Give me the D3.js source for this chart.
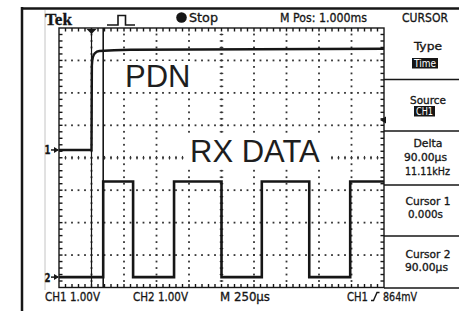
<!DOCTYPE html>
<html><head><meta charset="utf-8">
<script src="https://cdn.jsdelivr.net/npm/d3@7"></script>
<style>html,body{margin:0;padding:0;background:#fff;overflow:hidden}</style>
</head><body><svg id="c" width="459" height="311"></svg>
<script>
// ---------- data ----------
const timeDomainUs = [-250, 2250];          // 10 div x 250 µs, cursor 1 at t = 0
const cursorTimesUs = [0, 90];
const pdnTimeUs = [-250, 0, 3, 10, 25, 60, 300, 2250];
const pdnVolts  = [0, 0, 2.6, 2.85, 2.98, 3.05, 3.09, 3.12];
const rxEdgeTimesUs = [-250, 90, 320, 635, 1000, 1310, 1675, 1990, 2250];
const rxLevelsV     = [0, 2.95, 0, 2.95, 0, 2.95, 0, 2.95, 2.95];
const voltsPerDiv = [1, 1];
const triggerLevelV = 0.864;
const headerLabels = ["Tek", "Stop", "M Pos: 1.000ms", "CURSOR"];
const menuTitles = ["Type", "Source", "Delta", "Cursor 1", "Cursor 2"];
const menuValues = [["Time"], ["CH1"], ["90.00µs", "11.11kHz"], ["0.000s"], ["90.00µs"]];
const footerLabels = ["CH1 1.00V", "CH2 1.00V", "M 250µs", "CH1", "864mV"];
const waveLabels = ["PDN", "RX DATA"];

// ---------- layout ----------
const svg = d3.select("#c");
const gL = 59, gR = 384, gT = 28, gB = 287.5;
const nX = 10, nY = 8;
const divW = (gR - gL) / nX, divH = (gB - gT) / nY;
const x = d3.scaleLinear().domain(timeDomainUs).range([gL, gR]);
const yDiv = d3.scaleLinear().domain([0, nY]).range([gB, gT]);
const chPos = [4.24, 0.32];   // ground position (divisions above bottom)
const yCh = (ch, v) => yDiv(chPos[ch] + v / voltsPerDiv[ch]);
const ink = "#161616";
const condensed = "'Liberation Sans Narrow','DejaVu Sans Condensed','Liberation Sans',sans-serif";

function txt(g, s, xx, yy, len, size, opts = {}) {
  const t = g.append("text").attr("x", xx).attr("y", yy).text(s)
    .attr("font-family", opts.family || condensed)
    .attr("font-size", size).attr("fill", opts.fill || ink)
    .attr("font-weight", opts.weight || "normal");
  if (!opts.noStroke) t.attr("stroke", opts.fill || ink).attr("stroke-width", 0.3);
  if (len) t.attr("textLength", len).attr("lengthAdjust", "spacingAndGlyphs");
  if (opts.anchor) t.attr("text-anchor", opts.anchor);
  return t;
}

// outer frame
svg.append("line").attr("x1", 22).attr("x2", 22).attr("y1", 7).attr("y2", 311)
  .attr("stroke", ink).attr("stroke-width", 2.5);
svg.append("line").attr("x1", 21).attr("x2", 459).attr("y1", 8.5).attr("y2", 8.5)
  .attr("stroke", ink).attr("stroke-width", 2.5);
svg.append("line").attr("x1", 45).attr("x2", 45).attr("y1", 10).attr("y2", 290)
  .attr("stroke", "#c4c4c4").attr("stroke-width", 1);

// ---------- graticule ----------
const grid = svg.append("g");
const step = 5; // minor per div
const dots = [];
for (let k = 1; k < nX; k++) {
  const xx = gL + k * divW;
  for (let j = 1; j < nY * step; j++) dots.push([xx, gT + j * divH / step]);
}
for (let k = 1; k < nY; k++) {
  const yy = gT + k * divH;
  for (let j = 1; j < nX * step; j++) dots.push([gL + j * divW / step, yy]);
}
grid.selectAll("rect.dot").data(dots).join("rect").attr("class", "dot")
  .attr("x", d => d[0] - 0.9).attr("y", d => d[1] - 0.9)
  .attr("width", 1.8).attr("height", 1.8).attr("fill", "#333");
// center line ticks
const cx = gL + 5 * divW, cy = gT + 4 * divH;
const cTicksV = d3.range(1, nY * step).map(j => gT + j * divH / step);
const cTicksH = d3.range(1, nX * step).map(j => gL + j * divW / step);
grid.selectAll("line.cv").data(cTicksV).join("line")
  .attr("x1", cx - 1.8).attr("x2", cx + 1.8).attr("y1", d => d).attr("y2", d => d)
  .attr("stroke", "#333").attr("stroke-width", 1);
grid.selectAll("line.ch").data(cTicksH).join("line")
  .attr("y1", cy - 1.8).attr("y2", cy + 1.8).attr("x1", d => d).attr("x2", d => d)
  .attr("stroke", "#333").attr("stroke-width", 1);
// border with ticks
grid.append("rect").attr("x", gL).attr("y", gT).attr("width", gR - gL).attr("height", gB - gT)
  .attr("fill", "none").attr("stroke", ink).attr("stroke-width", 1.4);
grid.selectAll("line.bt").data(cTicksH).join("line")
  .attr("x1", d => d).attr("x2", d => d).attr("y1", gT).attr("y2", gT + 3.5)
  .attr("stroke", ink).attr("stroke-width", 1.4);
grid.selectAll("line.bb").data(cTicksH).join("line")
  .attr("x1", d => d).attr("x2", d => d).attr("y1", gB - 3.5).attr("y2", gB)
  .attr("stroke", ink).attr("stroke-width", 1.4);
grid.selectAll("line.bl").data(cTicksV).join("line")
  .attr("x1", gL).attr("x2", gL + 3.5).attr("y1", d => d).attr("y2", d => d)
  .attr("stroke", ink).attr("stroke-width", 1.4);
grid.selectAll("line.br").data(cTicksV).join("line")
  .attr("x1", gR - 3.5).attr("x2", gR).attr("y1", d => d).attr("y2", d => d)
  .attr("stroke", ink).attr("stroke-width", 1.4);

// ---------- wave labels ----------
const lab = svg.append("g");
lab.append("rect").attr("x", 121).attr("y", 61).attr("width", 73).attr("height", 30).attr("fill", "#fff");
lab.append("rect").attr("x", 186).attr("y", 135).attr("width", 144).attr("height", 31).attr("fill", "#fff");
txt(lab, waveLabels[0], 125, 87, null, 31, { family: "'Liberation Sans',Arial,sans-serif", fill: "#1e1e1e", noStroke: true });
txt(lab, waveLabels[1], 190, 162, null, 31, { family: "'Liberation Sans',Arial,sans-serif", fill: "#1e1e1e", noStroke: true });

// ---------- cursors ----------
svg.selectAll("line.cur").data(cursorTimesUs).join("line").attr("class", "cur")
  .attr("x1", d => x(d)).attr("x2", d => x(d)).attr("y1", gT).attr("y2", gB)
  .attr("stroke", ink).attr("stroke-width", (d, i) => i ? 1.6 : 1.2);

// ---------- waveforms ----------
const pdn = pdnTimeUs.map((t, i) => [t, pdnVolts[i]]);
const rx = rxEdgeTimesUs.map((t, i) => [t, rxLevelsV[i]]);
svg.append("path").datum(pdn)
  .attr("d", d3.line().x(d => x(d[0])).y(d => yCh(0, d[1])).curve(d3.curveMonotoneX))
  .attr("fill", "none").attr("stroke", ink).attr("stroke-width", 2.4);
svg.append("path").datum(rx)
  .attr("d", d3.line().x(d => x(d[0])).y(d => yCh(1, d[1])).curve(d3.curveStepAfter))
  .attr("fill", "none").attr("stroke", ink).attr("stroke-width", 2.6);

// channel ground markers
[0, 1].forEach(ch => {
  const yy = yCh(ch, 0);
  txt(svg, String(ch + 1), 44.5, yy + 4.5, 6, 12, { weight: "bold" });
  svg.append("path").attr("d", `M51,${yy}H58`).attr("stroke", ink).attr("stroke-width", 1.5);
  svg.append("path").attr("d", `M54,${yy - 3}L59,${yy}L54,${yy + 3}Z`).attr("fill", ink);
});
// trigger position marker
const tx = x(cursorTimesUs[0]);
svg.append("path").attr("d", `M${tx - 5},${gT + 1}H${tx + 5}L${tx},${gT + 6}Z`).attr("fill", ink);
// trigger level marker
const ty = yCh(0, triggerLevelV) - 2;
svg.append("path").attr("d", `M${gR - 4},${ty}L${gR + 2},${ty - 3.5}V${ty + 3.5}Z`).attr("fill", ink);

// ---------- header ----------
const hd = svg.append("g");
txt(hd, headerLabels[0], 45, 25, 27, 17, { weight: "bold", family: "'Liberation Serif',serif" });
hd.append("path").attr("d", "M107,25H118V15.5H125.5V25H135").attr("fill", "none")
  .attr("stroke", ink).attr("stroke-width", 1.6);
hd.append("circle").attr("cx", 181.5).attr("cy", 17.5).attr("r", 5.3).attr("fill", ink);
txt(hd, headerLabels[1], 189, 22, 29, 12.5);
txt(hd, headerLabels[2], 280, 22, 87, 12.5);
txt(hd, headerLabels[3], 402, 22, 46, 12.5);

// ---------- side menu ----------
const menu = svg.append("g");
const sepY = [79.5, 131, 185, 236, 288];
menu.selectAll("line.sep").data(sepY).join("line")
  .attr("x1", gR).attr("x2", 459).attr("y1", d => d).attr("y2", d => d)
  .attr("stroke", ink).attr("stroke-width", 1.4);
const mx = 428;
const titleY = [50, 104, 147, 205, 258];
const titleW = [28, 36, 29, 45, 45];
menuTitles.forEach((t, i) => txt(menu, t, mx - titleW[i] / 2, titleY[i], titleW[i], 11));
// inverse boxes
const invBox = [[412, 58, 26, 10.5], [414, 106, 21, 10.5]];
invBox.forEach((b, i) => {
  menu.append("rect").attr("x", b[0]).attr("y", b[1]).attr("width", b[2]).attr("height", b[3]).attr("fill", ink);
  txt(menu, menuValues[i][0], b[0] + 2, b[1] + 9, b[2] - 4, 10, { fill: "#fff", noStroke: true });
});
const valPos = [[[404, 161, 43], [405, 175, 45]], [[408, 218, 35]], [[405, 271, 43]]];
[2, 3, 4].forEach((mi, k) => {
  menuValues[mi].forEach((v, j) => {
    const p = valPos[k][j];
    txt(menu, v, p[0], p[1], p[2], 11);
  });
});

// ---------- footer ----------
const ft = svg.append("g");
txt(ft, footerLabels[0], 45, 301, 55, 12.5);
txt(ft, footerLabels[1], 133, 301, 55, 12.5);
txt(ft, footerLabels[2], 220, 301, 50, 12.5);
txt(ft, footerLabels[3], 347, 301, 21, 12.5);
ft.append("path").attr("d", "M371,300.5H373.5L377,292.5H379.5").attr("fill", "none")
  .attr("stroke", ink).attr("stroke-width", 1.4);
txt(ft, footerLabels[4], 383, 301, 34, 12.5);
</script></body></html>
